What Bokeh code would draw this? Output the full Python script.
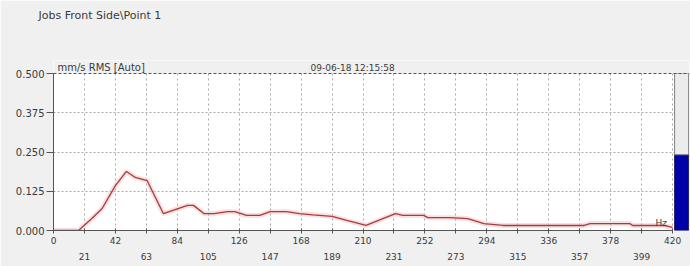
from bokeh.plotting import figure
from bokeh.models import (FixedTicker, LinearAxis, Span, Label, PrintfTickFormatter,
                          Range1d, BoxAnnotation)
from bokeh.embed import file_html
from bokeh.resources import INLINE

# ---- data ----
freq_hz = [0, 17, 26, 33, 42, 49.5, 55.5, 63.5, 74.5, 81, 91, 95, 102, 109, 118, 123,
           131, 140, 147, 158, 167, 176, 189, 199, 212, 232, 237, 251, 254, 269, 281,
           292, 305, 360, 364, 391, 393, 414, 420]
amplitude = [0, 0, 0.038, 0.07, 0.143, 0.188, 0.169, 0.159, 0.054, 0.064, 0.08, 0.08,
             0.054, 0.054, 0.06, 0.06, 0.048, 0.048, 0.06, 0.06, 0.054, 0.05, 0.045,
             0.032, 0.016, 0.054, 0.048, 0.048, 0.041, 0.041, 0.038, 0.022, 0.016,
             0.016, 0.022, 0.022, 0.016, 0.016, 0.01]
overall_level = 0.24
x_even_ticks = [0, 42, 84, 126, 168, 210, 252, 294, 336, 378, 420]
x_odd_ticks = [21, 63, 105, 147, 189, 231, 273, 315, 357, 399]
y_ticks = [0, 0.125, 0.25, 0.375, 0.5]
y_grid_ticks = [0.125, 0.25, 0.375]
title_text = "Jobs Front Side\\Point 1"
unit_text = "mm/s RMS  [Auto]"
date_text = "09-06-18 12:15:58"
x_unit = "Hz"

FONT = "DejaVu Sans"
TXT = "#3a3a3a"
BG = "#f0f0f0"
Y_TOP = 0.5
# frame extends 13 px above the 0.500 line to hold the header texts (157 px per 0.5)
y_view_top = Y_TOP + 13 * Y_TOP / 157

p = figure(width=690, height=266, x_range=Range1d(0, 431.5), y_range=Range1d(0, y_view_top),
           output_backend="svg", toolbar_location=None,
           min_border_left=53, min_border_right=1, min_border_top=60, min_border_bottom=36,
           background_fill_color="#ffffff", border_fill_color=BG)
p.outline_line_color = None

# blank lines below the title lift it to the top of the header area
p.title.text = title_text + "\n\n\n"
p.title.align = "left"
p.title.offset = -15
p.title.standoff = 0
p.title.text_font = FONT
p.title.text_font_size = "11px"
p.title.text_font_style = "normal"
p.title.text_color = TXT

# x axis, first row
xa = p.xaxis[0]
xa.ticker = FixedTicker(ticks=x_even_ticks, minor_ticks=x_odd_ticks)
xa.bounds = (0, 420)
xa.axis_line_color = "#555555"
xa.major_tick_line_color = "#555555"
xa.minor_tick_line_color = "#555555"
xa.major_tick_out = 3
xa.major_tick_in = 2
xa.minor_tick_out = 3
xa.minor_tick_in = 2
xa.major_label_standoff = 3
xa.major_label_text_font = FONT
xa.major_label_text_font_size = "9px"
xa.major_label_text_color = TXT

# x axis, second row
xb = LinearAxis(ticker=FixedTicker(ticks=x_odd_ticks), bounds=(0, 420),
                axis_line_color=None, major_tick_line_color=None, minor_tick_line_color=None,
                major_label_standoff=0, major_label_text_font=FONT,
                major_label_text_font_size="9px", major_label_text_color=TXT)
p.add_layout(xb, "below")

ya = p.yaxis[0]
ya.ticker = FixedTicker(ticks=y_ticks)
ya.bounds = (0, Y_TOP)
ya.formatter = PrintfTickFormatter(format="%.3f")
ya.axis_line_color = "#555555"
ya.major_tick_line_color = "#555555"
ya.minor_tick_line_color = None
ya.major_tick_out = 7
ya.major_tick_in = 0
ya.major_label_standoff = 2
ya.major_label_text_font = FONT
ya.major_label_text_font_size = "10px"
ya.major_label_text_color = TXT

p.xgrid.ticker = FixedTicker(ticks=x_even_ticks + x_odd_ticks)
p.xgrid.grid_line_color = "#a8a8a8"
p.xgrid.grid_line_dash = "2 3"
p.ygrid.ticker = FixedTicker(ticks=y_grid_ticks)
p.ygrid.grid_line_color = "#a8a8a8"
p.ygrid.grid_line_dash = "2 2"

# header strip above the 0.500 line
p.add_layout(BoxAnnotation(bottom=Y_TOP, fill_color=BG, fill_alpha=1.0, line_color=None))
p.add_layout(Span(location=Y_TOP, dimension="width", line_color="#555555",
                  line_dash="3 2", line_width=1))

# overall level bar at the right
p.quad(left=[421.4], right=[430.9], bottom=[overall_level], top=[Y_TOP],
       fill_color="#ececec", line_color="#808080")
p.quad(left=[421.4], right=[430.9], bottom=[0], top=[overall_level],
       fill_color="#0000a8", line_color="#202060")

# spectrum
p.line(freq_hz, amplitude, line_color="#f0b0b0", line_width=5, line_alpha=0.4)
p.line(freq_hz, amplitude, line_color="#a83c3c", line_width=1.3)

p.add_layout(Label(x=2.7, y=Y_TOP, y_offset=1, text=unit_text, text_font=FONT,
                   text_font_size="10px", text_color=TXT, text_baseline="bottom"))
p.add_layout(Label(x=174.4, y=Y_TOP, y_offset=1, text=date_text, text_font=FONT,
                   text_font_size="9px", text_color=TXT, text_baseline="bottom"))
p.add_layout(Label(x=408.5, y=0.025, text=x_unit, text_font=FONT,
                   text_font_size="9px", text_color=TXT, text_baseline="middle"))

open("out.html", "w").write(file_html(p, INLINE))
